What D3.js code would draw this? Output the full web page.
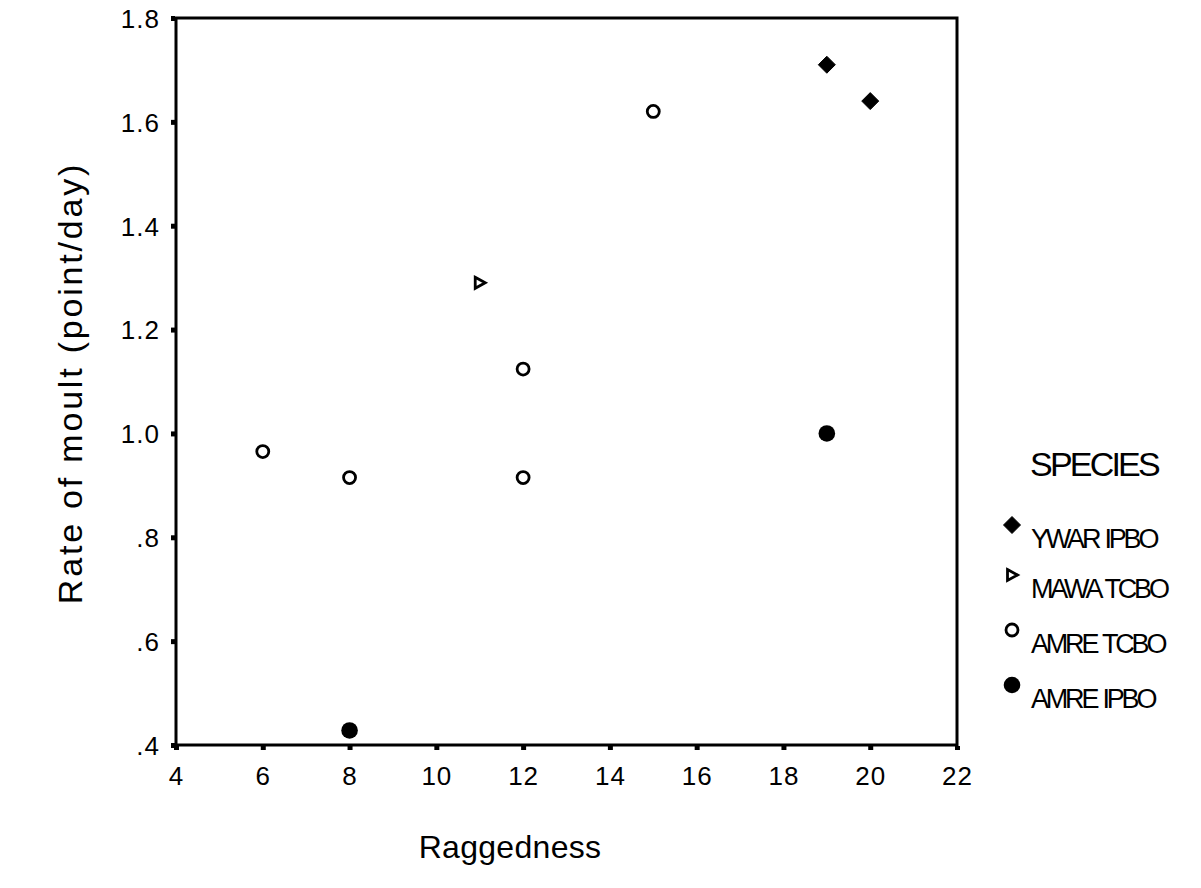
<!DOCTYPE html>
<html>
<head>
<meta charset="utf-8">
<script src="https://cdn.jsdelivr.net/npm/d3@7"></script>
<style>
	body { margin: 0; background: #fff; }
	svg { display: block; font-family: "Liberation Sans", Arial, sans-serif; }
</style>
</head>
<body>
<svg id="plot" width="1201" height="888"></svg>
<script>

// x = raggedness, y = rate of moult, one array pair per species
const SPECIES = ['YWAR IPBO', 'MAWA TCBO', 'AMRE TCBO', 'AMRE IPBO'];
const YWAR_IPBO_X = [19, 20];
const YWAR_IPBO_Y = [1.71, 1.64];
const MAWA_TCBO_X = [11];
const MAWA_TCBO_Y = [1.29];
const AMRE_TCBO_X = [6, 8, 12, 12, 15];
const AMRE_TCBO_Y = [0.965, 0.915, 1.124, 0.915, 1.62];
const AMRE_IPBO_X = [19, 8];
const AMRE_IPBO_Y = [1.0, 0.428];

const X_TICKS = [4, 6, 8, 10, 12, 14, 16, 18, 20, 22];
const Y_TICKS = [0.4, 0.6, 0.8, 1.0, 1.2, 1.4, 1.6, 1.8];
const Y_TICK_LABELS = ['.4', '.6', '.8', '1.0', '1.2', '1.4', '1.6', '1.8'];

const SERIES_X = [YWAR_IPBO_X, MAWA_TCBO_X, AMRE_TCBO_X, AMRE_IPBO_X];
const SERIES_Y = [YWAR_IPBO_Y, MAWA_TCBO_Y, AMRE_TCBO_Y, AMRE_IPBO_Y];

data = []
SPECIES.forEach((s, k) => {
	SERIES_X[k].forEach((xv, i) => data.push({ x: xv, y: SERIES_Y[k][i], species: s }));
});

const box = { left: 176, right: 957, top: 18, bottom: 745 };

// draw one marker of a species at (0,0) inside group g
function marker(g, species) {
	if (species === 'YWAR IPBO') {
		g.append('path').attr('d', 'M0,-8.5L8.5,0L0,8.5L-8.5,0Z').attr('fill', '#000')
			.attr('stroke', '#000').attr('stroke-width', 1).attr('stroke-linejoin', 'round');
	} else if (species === 'MAWA TCBO') {
		g.append('path').attr('d', 'M-4.5,-5.5L5.5,0L-4.5,5.5Z')
			.attr('fill', 'none').attr('stroke', '#000').attr('stroke-width', 2.8).attr('stroke-linejoin', 'miter');
	} else if (species === 'AMRE TCBO') {
		g.append('circle').attr('r', 6).attr('fill', 'none').attr('stroke', '#000').attr('stroke-width', 2.8);
	} else {
		g.append('circle').attr('r', 8.3).attr('fill', '#000');
	}
}

function draw() {
	var svg = d3.select('#plot');
	var x = d3.scaleLinear().domain([4, 22]).range([box.left, box.right]);
	var y = d3.scaleLinear().domain([0.4, 1.8]).range([box.bottom, box.top]);

	// frame
	svg.append('rect')
		.attr('x', box.left).attr('y', box.top)
		.attr('width', box.right - box.left).attr('height', box.bottom - box.top)
		.attr('fill', 'none').attr('stroke', '#000').attr('stroke-width', 3);

	var xAxis = d3.axisBottom(x).tickValues(X_TICKS).tickSize(4).tickPadding(17);
	var yAxis = d3.axisLeft(y).tickValues(Y_TICKS).tickSize(4).tickPadding(11)
		.tickFormat((d, i) => Y_TICK_LABELS[i]);

	var gx = svg.append('g')
		.attr('transform', `translate(0, ${box.bottom + 1})`)
		.call(xAxis);
	var gy = svg.append('g')
		.attr('transform', `translate(${box.left - 1}, 0)`)
		.call(yAxis);
	[gx, gy].forEach(g => {
		g.select('.domain').remove();
		g.selectAll('.tick line').attr('stroke', '#000').attr('stroke-width', 5);
		g.selectAll('.tick text').attr('fill', '#000').style('font-size', '26px')
			.style('letter-spacing', '1px')
			.style('font-family', '"Liberation Sans", Arial, sans-serif');
	});
	gy.selectAll('.tick text').attr('dy', '0.36em');

	svg.append('g')
		.selectAll('g')
		.data(data)
		.enter()
		.append('g')
			.attr('transform', (d) => `translate(${x(d.x)}, ${y(d.y)})`)
			.each(function (d) { marker(d3.select(this), d.species); });

	// axis titles
	svg.append('text')
		.attr('x', 510).attr('y', 858)
		.attr('text-anchor', 'middle')
		.style('font-size', '32px').style('letter-spacing', '0.3px')
		.text('Raggedness');
	svg.append('text')
		.attr('transform', 'translate(82, 383) rotate(-90)')
		.attr('text-anchor', 'middle')
		.style('font-size', '34px').style('letter-spacing', '2.8px')
		.text('Rate of moult (point/day)');

	// legend
	svg.append('text')
		.attr('x', 1030).attr('y', 476)
		.style('font-size', '34px').style('letter-spacing', '-2.8px')
		.text('SPECIES');
	var legendY = [525, 575, 630, 685];
	var lg = svg.append('g')
		.selectAll('g')
		.data(SPECIES)
		.enter()
		.append('g')
			.attr('transform', (d, i) => `translate(1012, ${legendY[i]})`);
	lg.each(function (d) { marker(d3.select(this), d); });
	lg.append('text')
		.attr('x', 19).attr('y', 23)
		.style('font-size', '27px').style('letter-spacing', '-3.2px')
		.style('word-spacing', '2px')
		.text((d) => d);
}

draw();
</script>
</body>
</html>
